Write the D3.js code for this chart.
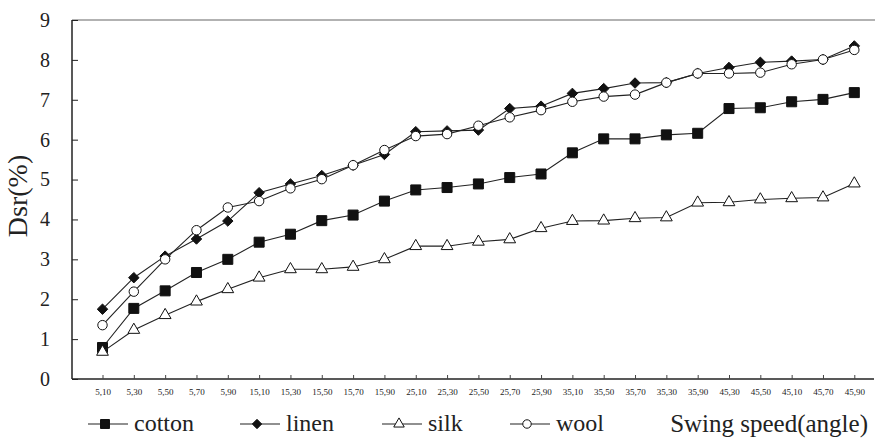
<!DOCTYPE html>
<html>
<head>
<meta charset="utf-8">
<script src="https://cdn.jsdelivr.net/npm/d3@7"></script>
<style>
  html, body { margin: 0; padding: 0; background: #fff; }
  svg { display: block; }
  svg text { font-family: "Liberation Serif", Tinos, "Times New Roman", Times, "DejaVu Serif", serif !important; fill: #222; }
</style>
</head>
<body>
<svg id="chart" width="875" height="441"></svg>
<script>
// Swing speed settings (speed,angle) in the order they were measured
const categories = [
  "5,10", "5,30", "5,50", "5,70", "5,90",
  "15,10", "15,30", "15,50", "15,70", "15,90",
  "25,10", "25,30", "25,50", "25,70", "25,90",
  "35,10", "35,50", "35,70", "35,30", "35,90",
  "45,30", "45,50", "45,10", "45,70", "45,90"
];

// Dsr (%) per fabric
const cotton = [0.79, 1.77, 2.21, 2.67, 3.0, 3.43, 3.63, 3.97, 4.11, 4.46, 4.74, 4.8, 4.89, 5.05, 5.14, 5.67, 6.02, 6.02, 6.12, 6.16, 6.78, 6.8, 6.95, 7.01, 7.18];
const linen  = [1.75, 2.54, 3.08, 3.51, 3.96, 4.67, 4.89, 5.1, 5.36, 5.63, 6.2, 6.22, 6.24, 6.78, 6.84, 7.16, 7.28, 7.42, 7.43, 7.66, 7.81, 7.94, 7.97, 8.01, 8.35];
const silk   = [0.68, 1.23, 1.6, 1.94, 2.25, 2.54, 2.75, 2.75, 2.81, 3.0, 3.33, 3.33, 3.44, 3.5, 3.78, 3.96, 3.97, 4.03, 4.05, 4.42, 4.43, 4.5, 4.53, 4.55, 4.9];
const wool   = [1.35, 2.19, 3.0, 3.73, 4.3, 4.46, 4.78, 5.01, 5.36, 5.74, 6.09, 6.14, 6.35, 6.56, 6.74, 6.95, 7.08, 7.13, 7.43, 7.66, 7.66, 7.68, 7.89, 8.01, 8.25];

const yTicks = [0, 1, 2, 3, 4, 5, 6, 7, 8, 9];

const series = [
  { name: "cotton", values: cotton, symbol: d3.symbolSquare,   size: 100, fill: "#111" },
  { name: "linen",  values: linen,  symbol: d3.symbolDiamond2, size: 70,  fill: "#111" },
  { name: "silk",   values: silk,   symbol: d3.symbolTriangle, size: 60,  fill: "#fff" },
  { name: "wool",   values: wool,   symbol: d3.symbolCircle,   size: 70,  fill: "#fff" }
];

const FONT = "'Liberation Serif', Tinos, 'Times New Roman', Times, 'DejaVu Serif', serif";

const svg = d3.select("#chart");
const plotLeft = 72, plotRight = 874, plotTop = 20, plotBottom = 379;

const x = d3.scalePoint().domain(categories).range([102.5, 854.3]);
const y = d3.scaleLinear().domain([0, 9]).range([plotBottom, plotTop]);

// top frame line
svg.append("line")
  .attr("x1", plotLeft).attr("x2", 875).attr("y1", plotTop).attr("y2", plotTop)
  .attr("stroke", "#999").attr("stroke-width", 1.5);

// y axis
const yAxis = svg.append("g").attr("transform", `translate(${plotLeft},0)`)
  .call(d3.axisLeft(y).tickValues(yTicks).tickSize(-6).tickPadding(22).tickFormat(d3.format("d")))
  .attr("font-family", FONT);
yAxis.select(".domain").attr("d", `M0,${plotTop}V${plotBottom}`).attr("stroke", "#222").attr("stroke-width", 1.5);
yAxis.selectAll(".tick line").attr("stroke", "#222");
yAxis.selectAll(".tick text").attr("font-size", 20).attr("fill", "#333");

// x axis
const xAxis = svg.append("g").attr("transform", `translate(0,${plotBottom})`)
  .call(d3.axisBottom(x).tickSize(-4).tickPadding(10))
  .attr("font-family", FONT);
xAxis.select(".domain").attr("d", `M${plotLeft},0H${plotRight}`).attr("stroke", "#222").attr("stroke-width", 1.5);
xAxis.selectAll(".tick line").attr("stroke", "#444");
xAxis.selectAll(".tick text").attr("font-size", 9).attr("fill", "#333");

// y axis title
svg.append("text")
  .attr("transform", `translate(27,196) rotate(-90)`)
  .attr("text-anchor", "middle")
  .attr("font-family", FONT)
  .attr("font-size", 28)
  .text("Dsr(%)");

const line = d3.line().x((d, i) => x(categories[i])).y(d => y(d));

series.forEach(s => {
  const g = svg.append("g");
  g.append("path")
    .attr("d", line(s.values))
    .attr("fill", "none")
    .attr("stroke", "#222")
    .attr("stroke-width", 1.1);
  g.selectAll("path.m").data(s.values).join("path")
    .attr("class", "m")
    .attr("transform", (d, i) => `translate(${x(categories[i])},${y(d)})`)
    .attr("d", d3.symbol().type(s.symbol).size(s.size))
    .attr("fill", s.fill)
    .attr("stroke", "#111")
    .attr("stroke-width", 1);
});

// legend
const legendX = [88, 240, 382, 510];
const legend = svg.append("g").attr("transform", "translate(0,424)").attr("font-family", FONT);
series.forEach((s, i) => {
  const g = legend.append("g").attr("transform", `translate(${legendX[i]},0)`);
  g.append("line").attr("x1", 0).attr("x2", 40).attr("y1", 0).attr("y2", 0)
    .attr("stroke", "#222").attr("stroke-width", 1.1);
  g.append("path").attr("transform", "translate(17,0)")
    .attr("d", d3.symbol().type(s.symbol).size(s.size * 0.8))
    .attr("fill", s.fill).attr("stroke", "#111").attr("stroke-width", 1);
  g.append("text").attr("x", 46).attr("y", 7).attr("font-size", 24).text(s.name);
});
svg.append("text")
  .attr("x", 868).attr("y", 432).attr("text-anchor", "end")
  .attr("font-family", FONT)
  .attr("font-size", 25).text("Swing speed(angle)");
</script>
</body>
</html>
